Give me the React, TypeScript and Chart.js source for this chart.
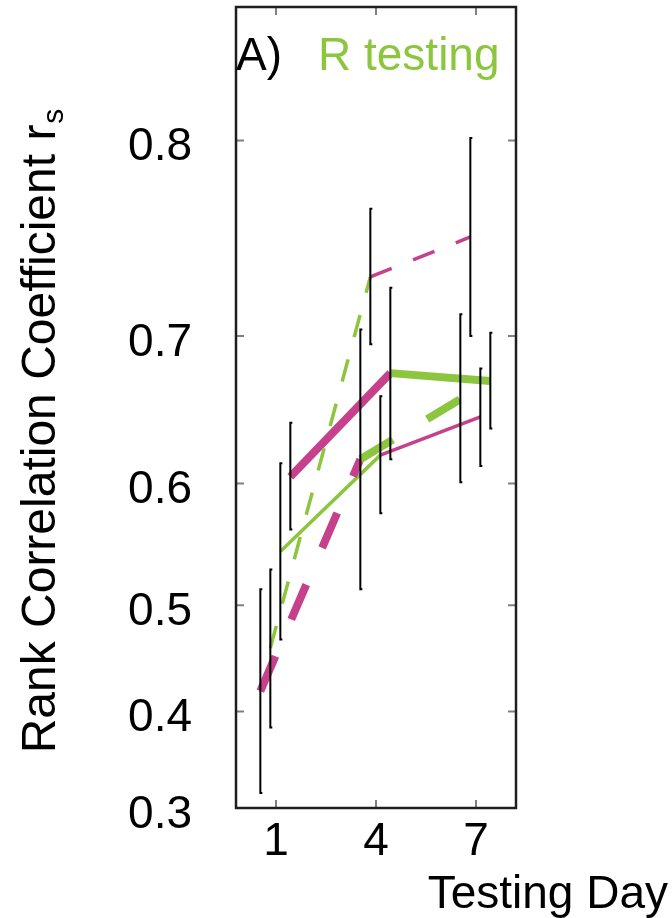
import React, { useEffect, useRef } from "react";
import { Chart, registerables } from "chart.js";

Chart.register(...registerables);

// ---------- data ----------
const days = [1, 4, 7];
const xTicks = [1, 4, 7];
const yTicks = [0.3, 0.4, 0.5, 0.6, 0.7, 0.8];

// series A (thick dashed)
const meanA = [0.42, 0.618, 0.66];
const lowA = [0.316, 0.514, 0.601];
const highA = [0.514, 0.704, 0.713];
const colorsA = ["magenta", "green"];
// series B (thin dashed)
const meanB = [0.461, 0.734, 0.755];
const lowB = [0.384, 0.695, 0.7];
const highB = [0.531, 0.769, 0.801];
const colorsB = ["green", "magenta"];
// series C (thin solid)
const meanC = [0.546, 0.621, 0.648];
const lowC = [0.469, 0.577, 0.613];
const highC = [0.615, 0.662, 0.68];
const colorsC = ["green", "magenta"];
// series D (thick solid)
const meanD = [0.605, 0.677, 0.672];
const lowD = [0.564, 0.618, 0.64];
const highD = [0.644, 0.728, 0.702];
const colorsD = ["magenta", "green"];

const panelLabel = "A)";
const panelTitle = "R testing";
const xTitle = "Testing Day";
const yTitleMain = "Rank Correlation Coefficient r";
const yTitleSub = "s";

// ---------- styles ----------
const COLORS: Record<string, string> = { magenta: "#C7408B", green: "#8CC63F" };
const FONT = "'Liberation Sans', Arial, Helvetica, sans-serif";

const z = (r: number) => Math.atanh(r);

type S = {
  mean: number[];
  low: number[];
  high: number[];
  colors: string[];
  offset: number;
  width: number;
  dash: number[];
};

const series: S[] = [
  { mean: meanA, low: lowA, high: highA, colors: colorsA, offset: -0.47, width: 8, dash: [38, 40] },
  { mean: meanB, low: lowB, high: highB, colors: colorsB, offset: -0.17, width: 3.5, dash: [23, 23] },
  { mean: meanC, low: lowC, high: highC, colors: colorsC, offset: 0.13, width: 3.5, dash: [] },
  { mean: meanD, low: lowD, high: highD, colors: colorsD, offset: 0.43, width: 8, dash: [] },
];

const decorPlugin = {
  id: "decor",
  afterDatasetsDraw(chart: any) {
    const ctx = chart.ctx;
    const xs = chart.scales.x;
    const ys = chart.scales.y;
    ctx.save();
    ctx.strokeStyle = "#000";
    ctx.lineWidth = 2;
    ctx.lineCap = "butt";
    series.forEach((s) => {
      days.forEach((d, i) => {
        const px = xs.getPixelForValue(d + s.offset);
        const pt = ys.getPixelForValue(z(s.high[i]));
        const pb = ys.getPixelForValue(z(s.low[i]));
        ctx.beginPath();
        ctx.moveTo(px + 2, pt);
        ctx.lineTo(px, pt);
        ctx.lineTo(px, pb);
        ctx.lineTo(px + 2, pb);
        ctx.stroke();
      });
    });
    ctx.restore();
  },
  afterDraw(chart: any) {
    const ctx = chart.ctx;
    const a = chart.chartArea;
    const xs = chart.scales.x;
    const ys = chart.scales.y;
    ctx.save();
    // tick marks
    ctx.strokeStyle = "#808080";
    ctx.lineWidth = 2;
    const tl = 8;
    yTicks.forEach((v) => {
      const py = ys.getPixelForValue(z(v));
      ctx.beginPath();
      ctx.moveTo(a.left, py);
      ctx.lineTo(a.left + tl, py);
      ctx.moveTo(a.right, py);
      ctx.lineTo(a.right - tl, py);
      ctx.stroke();
    });
    xTicks.forEach((v) => {
      const px = xs.getPixelForValue(v);
      ctx.beginPath();
      ctx.moveTo(px, a.bottom);
      ctx.lineTo(px, a.bottom - tl);
      ctx.moveTo(px, a.top);
      ctx.lineTo(px, a.top + tl);
      ctx.stroke();
    });
    // box
    ctx.strokeStyle = "#1e1e1e";
    ctx.lineWidth = 2.5;
    ctx.strokeRect(a.left, a.top, a.right - a.left, a.bottom - a.top);

    // panel texts
    ctx.font = `46px ${FONT}`;
    ctx.textBaseline = "alphabetic";
    ctx.textAlign = "left";
    ctx.fillStyle = "#000";
    ctx.fillText(panelLabel, a.left, 70);
    ctx.fillStyle = COLORS.green;
    ctx.fillText(panelTitle, 318, 70);

    // x title
    ctx.fillStyle = "#000";
    ctx.textAlign = "right";
    ctx.fillText(xTitle, 668, 908);

    // y title (rotated with subscript)
    const mainFont = `48px ${FONT}`;
    const subFont = `30px ${FONT}`;
    ctx.font = mainFont;
    const wMain = ctx.measureText(yTitleMain).width;
    ctx.font = subFont;
    const wSub = ctx.measureText(yTitleSub).width;
    const total = wMain + wSub + 1;
    const cy = 431;
    ctx.translate(55, cy + total / 2);
    ctx.rotate(-Math.PI / 2);
    ctx.textAlign = "left";
    ctx.font = mainFont;
    ctx.fillText(yTitleMain, 0, 0);
    ctx.font = subFont;
    ctx.fillText(yTitleSub, wMain + 1, 8);
    ctx.restore();
  },
};

export default function App() {
  const ref = useRef<HTMLCanvasElement | null>(null);

  useEffect(() => {
    document.body.style.margin = "0";
    const canvas = ref.current;
    if (!canvas) return;

    const datasets = series.map((s) => ({
      data: days.map((d, i) => ({ x: d + s.offset, y: z(s.mean[i]) })),
      borderColor: COLORS[s.colors[0]],
      borderWidth: s.width,
      borderDash: s.dash,
      borderCapStyle: "butt" as const,
      pointRadius: 0,
      pointHoverRadius: 0,
      fill: false,
      tension: 0,
      segment: {
        borderColor: (c: any) => COLORS[s.colors[c.p0DataIndex]],
        borderDash: () => s.dash,
      },
    }));

    const chart = new Chart(canvas, {
      type: "line",
      data: { datasets },
      options: {
        responsive: false,
        animation: false,
        events: [],
        layout: { padding: { top: 7, right: 156, bottom: 0, left: 0 } },
        plugins: {
          legend: { display: false },
          tooltip: { enabled: false },
          title: { display: false },
        },
        scales: {
          x: {
            type: "linear",
            min: -0.2,
            max: 8.2,
            grid: { display: false, drawTicks: false },
            border: { display: false },
            afterFit: (scale: any) => {
              scale.height = 110;
              scale.paddingLeft = 0;
              scale.paddingRight = 0;
            },
            afterBuildTicks: (scale: any) => {
              scale.ticks = xTicks.map((v) => ({ value: v }));
            },
            ticks: {
              autoSkip: false,
              maxRotation: 0,
              padding: 7,
              color: "#000",
              font: { family: FONT, size: 46 },
              callback: (v: any) => String(v),
            },
          },
          y: {
            type: "linear",
            min: z(0.3),
            max: z(0.3) + 801 / 846,
            grid: { display: false, drawTicks: false },
            border: { display: false },
            afterFit: (scale: any) => {
              scale.width = 236;
              scale.paddingTop = 0;
              scale.paddingBottom = 0;
            },
            afterBuildTicks: (scale: any) => {
              scale.ticks = yTicks.map((v) => ({ value: z(v) }));
            },
            ticks: {
              autoSkip: false,
              padding: 44,
              labelOffset: 7,
              color: "#000",
              font: { family: FONT, size: 46 },
              callback: (v: any) => Math.tanh(Number(v)).toFixed(1),
            },
          },
        },
      },
      plugins: [decorPlugin],
    } as any);

    return () => chart.destroy();
  }, []);

  return (
    <div style={{ width: 672, height: 918 }}>
      <canvas ref={ref} width={672} height={918} style={{ display: "block" }} />
    </div>
  );
}
